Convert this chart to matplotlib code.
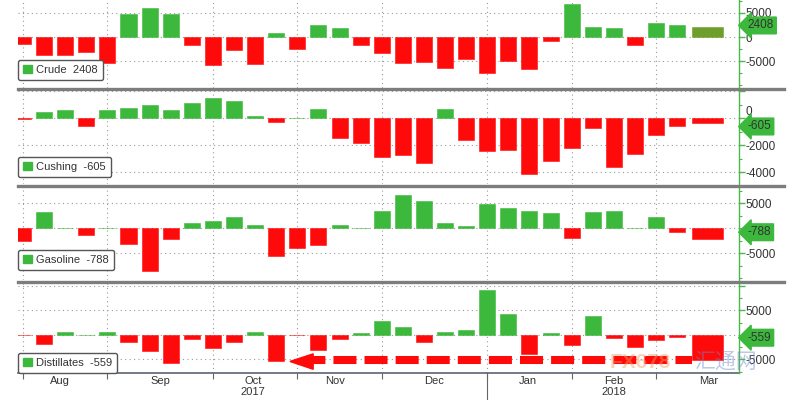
import numpy as np
import matplotlib
matplotlib.use('Agg')
from matplotlib import pyplot as plt
from matplotlib.patches import Patch, Polygon
from matplotlib.lines import Line2D
import matplotlib.transforms as mtransforms

plt.rcParams['font.family'] = ['Liberation Sans', 'DejaVu Sans']

# weekly EIA inventory changes (Aug 2017 - Mar 2018), last one is the latest week
crude = [-1400, -3800, -3800, -3100, -5300, 4700, 6000, 4700, -1700, -5900, -2800,
         -5700, 900, -2400, 2400, 1900, -1700, -3300, -5500, -5100, -6400, -4600,
         -7400, -5000, -6700, -900, 6800, 2100, 1900, -1600, 3000, 2600, 2000]
cushing = [-50, 500, 620, -540, 620, 740, 990, 620, 1110, 1480, 1280, 170, -250,
           30, 690, -1480, -1800, -2890, -2720, -3290, 690, -1600, -2420, -2350,
           -4120, -3140, -2170, -690, -3580, -2640, -1240, -570, -370]
gasoline = [-2530, 3330, 80, -1330, 60, -3130, -8530, -2200, 1000, 1530, 2330, 670,
            -5470, -4000, -3330, 670, 60, 3470, 6670, 5530, 1000, 470, 4800, 4000,
            3470, 3000, -2000, 3330, 3470, 100, 2330, -800, -2130]
distillates = [-50, -1840, 680, 50, 680, -1500, -3260, -5780, -880, -2580, -1500,
               540, -5300, -100, -3060, -880, 340, 2860, 1700, -1360, 680, 1020,
               9180, 4280, -3880, 480, -2040, 3940, -540, -2520, -1020, -480, -5200]

names = ['Crude', 'Cushing', 'Gasoline', 'Distillates']
latest = ['2408', '-605', '-788', '-559']
latest_val = [2408, -605, -788, -559]

months = ['Aug', 'Sep', 'Oct', 'Nov', 'Dec', 'Jan', 'Feb', 'Mar']
month_start = [0, 4, 9, 13, 17, 22, 26, 30]     # week index where month gridline sits
month_label_pos = [1.75, 6.5, 10.9, 14.8, 19.5, 23.9, 28.0, 32.5]
years = ['2017', '2018']
year_pos = [10.9, 28.0]

GREEN = '#3cb83c'
RED = '#ff0a0a'
OLIVE = '#6e9e2c'
AXGREEN = '#4cb84c'
TXT = '#333333'

fig = plt.figure(figsize=(8, 4), dpi=100)
fig.patch.set_facecolor('white')

boxes = [(0.78, 0.22), (0.54, 0.235), (0.30, 0.235), (0.0675, 0.225)]
ylims = [(-10600, 7700), (-4870, 2100), (-10340, 8460), (-7760, 10600)]
yticks = [[-5000, 0, 5000],
          [-4000, -2000, 0, 2000],
          [-5000, 5000],
          [-5000, 5000, 10000]]
ytlabels = [['-5000', '0', '5000'],
            ['-4000', '-2000', '0', ''],
            ['-5000', '5000'],
            ['-5000', '5000', '']]
yminor = [[-10000, -7500, -2500, 2500, 7500],
          [-3000, -1000, 1000],
          [-10000, -7500, -2500, 0, 2500, 7500],
          [-7500, -2500, 0, 2500, 7500]]
leg_y = [0.09, 0.075, 0.106, 0.0]

series = [crude, cushing, gasoline, distillates]
axes = []
for k in range(4):
    b, h = boxes[k]
    ax = fig.add_axes([0.0225, b, 0.90125, h])
    axes.append(ax)
    vals = np.array(series[k])
    n = len(vals)
    x = np.arange(n - 1)
    cols = [GREEN if v > 0 else RED for v in vals[:-1]]
    ax.bar(x, vals[:-1], width=0.76, color=cols, edgecolor=cols, linewidth=0.4, zorder=3)
    last_col = OLIVE if k == 0 else (GREEN if vals[-1] > 0 else RED)
    ax.bar(31.7, vals[-1], width=1.47, align='edge', color=last_col,
           edgecolor=last_col, linewidth=0.4, zorder=3)

    ax.set_xlim(-0.237, 33.93)
    ax.set_ylim(*ylims[k])

    # gridlines
    for t in sorted(set(yticks[k] + [0])):
        ax.axhline(t, color='#9a9a9a', lw=0.8, ls=(0, (1, 3)), zorder=1)
    for m in month_start:
        ax.axvline(m, color='#9a9a9a', lw=0.8, ls=(0, (1, 3)), zorder=1)

    for s in ['top', 'left', 'bottom']:
        ax.spines[s].set_visible(False)
    ax.spines['right'].set_color(AXGREEN)
    ax.spines['right'].set_linewidth(1.0)
    ax.yaxis.tick_right()
    ax.set_yticks(yticks[k])
    ax.set_yticklabels(ytlabels[k])
    ax.set_yticks(yminor[k], minor=True)
    ax.tick_params(axis='y', which='major', direction='out', length=4, width=1.0,
                   color=AXGREEN, labelsize=8.5, labelcolor=TXT, pad=1)
    ax.tick_params(axis='y', which='minor', direction='out', length=2, width=0.8,
                   color=AXGREEN)
    if k == 1:
        # the "0" peeks out above the value flag
        for lab in ax.get_yticklabels():
            if lab.get_text() == '0':
                lab.set_va('bottom')

    if k < 3:
        ax.set_xticks([])
    else:
        ax.set_xticks(month_start)
        ax.set_xticklabels([''] * len(month_start))
        ax.tick_params(axis='x', which='major', direction='out', length=4,
                       color='#666666', width=0.8)
        ax.set_xticks(month_label_pos, minor=True)
        ax.set_xticklabels(months, minor=True)
        ax.tick_params(axis='x', which='minor', length=0, labelsize=8,
                       labelcolor=TXT, pad=2)
        trans = mtransforms.blended_transform_factory(ax.transData, ax.transAxes)
        for yl, yp in zip(years, year_pos):
            ax.text(yp, -0.215, yl, transform=trans, ha='center', va='center',
                    fontsize=8, color=TXT)
        # long tick at the year change
        ax.plot([22, 22], [0, -0.38], transform=trans, color='#666666', lw=0.8,
                clip_on=False)
        ax.plot([-0.237, 33.93], [0, 0], transform=trans, color='#5a6470', lw=1.2,
                clip_on=False)

    # legend box lower left
    leg = ax.legend(handles=[Patch(facecolor=GREEN, edgecolor=GREEN)],
                    labels=[names[k] + '  ' + latest[k]], loc='lower left',
                    bbox_to_anchor=(0.0, leg_y[k]), borderaxespad=0, fontsize=8,
                    handlelength=0.8, handleheight=0.8, handletextpad=0.4,
                    borderpad=0.45, fancybox=True, framealpha=1,
                    edgecolor='#555555', labelcolor=TXT)
    leg.get_frame().set_linewidth(1.0)
    leg.set_zorder(5)

    # latest value flag on the right axis
    trans = mtransforms.blended_transform_factory(ax.transAxes, ax.transData)
    ax.text(1.012, latest_val[k], latest[k], transform=trans, ha='left', va='center',
            fontsize=8.5, color=TXT, zorder=10, clip_on=False,
            bbox=dict(boxstyle='larrow,pad=0.2', fc=GREEN, ec=GREEN))

# red dashed arrow (annotation in distillates panel)
ax = axes[3]
ax.plot([13.7, 31.7], [-5150, -5150], color=RED, lw=5.8, ls=(1.2, (2.86, 1.0)),
        solid_capstyle='butt', dash_capstyle='butt', zorder=6)
ax.add_patch(Polygon([[12.65, -5400], [13.75, -3850], [13.75, -7000]], closed=True,
                     color=RED, zorder=6, clip_on=False))

# panel separators
for yy in [1 - 89 / 400, 1 - 185.5 / 400, 1 - 281.5 / 400]:
    fig.add_artist(Line2D([0.0225, 0.98], [yy, yy], color='#7d7d7d', lw=2.4))

# watermark
fig.text(0.762, 0.095, 'FX678', fontsize=15, color='#f5a060', alpha=0.45,
         fontweight='bold', ha='left', va='center')
fig.text(0.868, 0.095, '汇通网', fontsize=15, color='#6f86c8', alpha=0.45,
         family=['Noto Sans CJK SC', 'DejaVu Sans'], ha='left', va='center')

fig.savefig('out.png', dpi=100, facecolor='white')
